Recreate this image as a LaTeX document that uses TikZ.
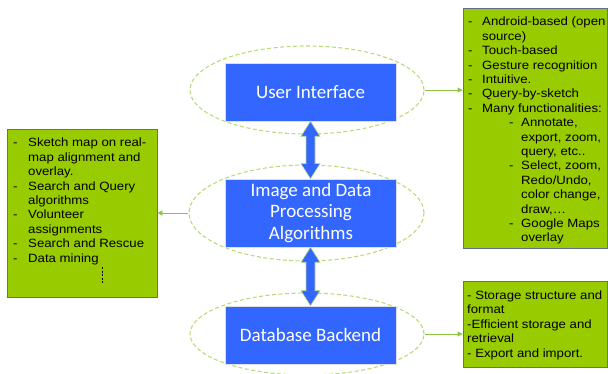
\documentclass[tikz,border=0pt]{standalone}
\usepackage{fontspec}
\setmainfont{Liberation Sans}
\newfontfamily\blfont{Carlito}
\newfontfamily\gtfont[FakeStretch=1.1]{Liberation Sans}
\usetikzlibrary{shapes.geometric,arrows.meta,calc}
\definecolor{boxblue}{RGB}{51,102,255}
\definecolor{boxgreen}{RGB}{153,204,0}
\definecolor{ellgreen}{RGB}{185,220,120}
\definecolor{arrgreen}{RGB}{140,198,63}
\definecolor{edgegray}{RGB}{100,110,140}
\begin{document}
\begin{tikzpicture}[x=1pt,y=-1pt,
  blbox/.style={draw=white!75!gray, line width=0.6pt, fill=boxblue, text=white,
    font=\blfont\fontsize{19}{21.8}\selectfont, align=center, inner sep=0pt,
    minimum width=171pt},
  infobox/.style={draw=edgegray, line width=0.8pt, fill=boxgreen, inner sep=0pt},
  infotext/.style={font=\gtfont\fontsize{12}{14.4}\selectfont, align=left,
    anchor=north west, inner sep=0pt, text=black},
  halo/.style={ellipse, draw=ellgreen, dash pattern=on 4pt off 2.5pt,
    line width=1.1pt, inner sep=0pt},
  link/.style={draw=arrgreen, line width=0.8pt, -{Triangle[length=5pt,width=5pt]}},
  bidir/.style={fill=boxblue, draw=ellgreen, line width=0.6pt}
]
\useasboundingbox (0,0) rectangle (608,374);

% dashed halos
\node[halo, minimum width=234pt, minimum height=88pt] (e1) at (307,90) {};
\node[halo, minimum width=235pt, minimum height=96pt] (e2) at (306.5,213) {};
\node[halo, minimum width=234pt, minimum height=82pt] (e3) at (307,334) {};

% blue boxes
\node[blbox, minimum height=58pt] (ui) at (310.5,92) {User Interface};
\node[blbox, minimum height=68pt] (mid) at (311,213) {Image and Data\\Processing\\Algorithms};
\node[blbox, minimum height=58pt] (db) at (310.5,335) {Database Backend};

% info boxes
\node[infobox, minimum width=144pt, minimum height=240pt] (rt) at (535,128) {};
\node[infobox, minimum width=150pt, minimum height=168pt] (lt) at (82,213) {};
\node[infobox, minimum width=144pt, minimum height=86pt] (rb) at (535,324) {};

\node[infotext] (rttext) at (468,15.6) {\strut\makebox[14pt][l]{-}Android-based (open\\
\hspace*{14pt}source)\\
\makebox[14pt][l]{-}Touch-based\\
\makebox[14pt][l]{-}Gesture recognition\\
\makebox[14pt][l]{-}Intuitive.\\
\makebox[14pt][l]{-}Query-by-sketch\\
\makebox[14pt][l]{-}Many functionalities:\\
\hspace*{41pt}\makebox[12pt][l]{-}Annotate,\\
\hspace*{53pt}export, zoom,\\
\hspace*{53pt}query, etc..\\
\hspace*{41pt}\makebox[12pt][l]{-}Select, zoom,\\
\hspace*{53pt}Redo/Undo,\\
\hspace*{53pt}color change,\\
\hspace*{53pt}draw,\dots\\
\hspace*{41pt}\makebox[12pt][l]{-}Google Maps\\
\hspace*{53pt}overlay};

\node[infotext] (lttext) at (13,136.6) {\strut\makebox[15pt][l]{-}Sketch map on real-\\
\hspace*{15pt}map alignment and\\
\hspace*{15pt}overlay.\\
\makebox[15pt][l]{-}Search and Query\\
\hspace*{15pt}algorithms\\
\makebox[15pt][l]{-}Volunteer\\
\hspace*{15pt}assignments\\
\makebox[15pt][l]{-}Search and Rescue\\
\makebox[15pt][l]{-}Data mining};
\draw[line width=1pt, dash pattern=on 2pt off 1.6pt] (102,267) -- (102,284);

\node[infotext] (rbtext) at (467,289.2) {\strut- Storage structure and\\
format\\
-Efficient storage and\\
retrieval\\
- Export and import.};

% links to info boxes
\draw[link] (e1.east) -- (e1.east -| rt.west);
\draw[link] (e2.west) -- (e2.west -| lt.east);
\draw[link] (e3.east) -- (e3.east -| rb.west);

% double block arrows
\coordinate (b1) at (ui.south |- mid.north);
\filldraw[bidir] (ui.south) -- ($(ui.south)+(9.5,15)$) -- ($(ui.south)+(4.5,15)$)
  -- ($(b1)+(4.5,-15)$) -- ($(b1)+(9.5,-15)$) -- (b1) -- ($(b1)+(-9.5,-15)$)
  -- ($(b1)+(-4.5,-15)$) -- ($(ui.south)+(-4.5,15)$) -- ($(ui.south)+(-9.5,15)$) -- cycle;
\coordinate (t2) at (ui.south |- mid.south);
\coordinate (b2) at (ui.south |- db.north);
\filldraw[bidir] (t2) -- ($(t2)+(9.5,15)$) -- ($(t2)+(4.5,15)$)
  -- ($(b2)+(4.5,-15)$) -- ($(b2)+(9.5,-15)$) -- (b2) -- ($(b2)+(-9.5,-15)$)
  -- ($(b2)+(-4.5,-15)$) -- ($(t2)+(-4.5,15)$) -- ($(t2)+(-9.5,15)$) -- cycle;
\end{tikzpicture}
\end{document}
